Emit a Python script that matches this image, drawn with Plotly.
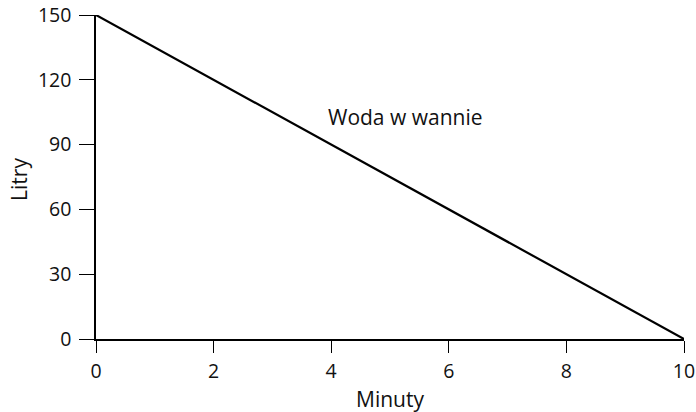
import plotly.graph_objects as go

minutes = [0, 10]
liters = [150, 0]
x_ticks = [0, 2, 4, 6, 8, 10]
y_ticks = [0, 30, 60, 90, 120, 150]
label_text = "Woda w wannie"
label_pos = (5.26, 103)
x_title = "Minuty"
y_title = "Litry"

FONT = "Open Sans"
FS_TICK = 19.5
FS_TEXT = 21

fig = go.Figure()
fig.add_trace(go.Scatter(x=minutes, y=liters, mode="lines",
                         line=dict(color="black", width=2.2),
                         cliponaxis=False, hoverinfo="skip"))
fig.add_annotation(x=label_pos[0], y=label_pos[1], text=label_text,
                   showarrow=False, font=dict(family=FONT, size=FS_TEXT, color="#111"))
fig.add_annotation(xref="paper", yref="paper", x=0.5, y=-0.185, text=x_title,
                   showarrow=False, xanchor="center", yanchor="middle",
                   font=dict(family=FONT, size=FS_TEXT, color="#111"))
fig.add_annotation(xref="paper", yref="paper", x=-0.131, y=0.494, text=y_title,
                   showarrow=False, xanchor="center", yanchor="middle", textangle=-90,
                   font=dict(family=FONT, size=FS_TEXT, color="#111"))
fig.update_layout(
    width=696, height=412, autosize=False,
    margin=dict(l=96, r=12, t=15, b=73, autoexpand=False),
    paper_bgcolor="white", plot_bgcolor="white",
    showlegend=False,
    font=dict(family=FONT, size=FS_TICK, color="#111"),
)
fig.update_xaxes(range=[0, 10], tickvals=x_ticks, showgrid=False, zeroline=False,
                 showline=True, linecolor="black", linewidth=1.5, automargin=False,
                 ticks="outside", ticklen=12, tickwidth=1.2, tickcolor="black",
                 ticklabelstandoff=2, tickfont=dict(size=FS_TICK))
fig.update_yaxes(range=[0, 150], tickvals=y_ticks, showgrid=False, zeroline=False,
                 showline=True, linecolor="black", linewidth=1.5, automargin=False,
                 ticks="outside", ticklen=15, tickwidth=1.2, tickcolor="black",
                 ticklabelstandoff=4, tickfont=dict(size=FS_TICK))
fig.write_html("out.html", config={"responsive": False, "displayModeBar": False},
               post_script="document.body.style.margin='0';")
